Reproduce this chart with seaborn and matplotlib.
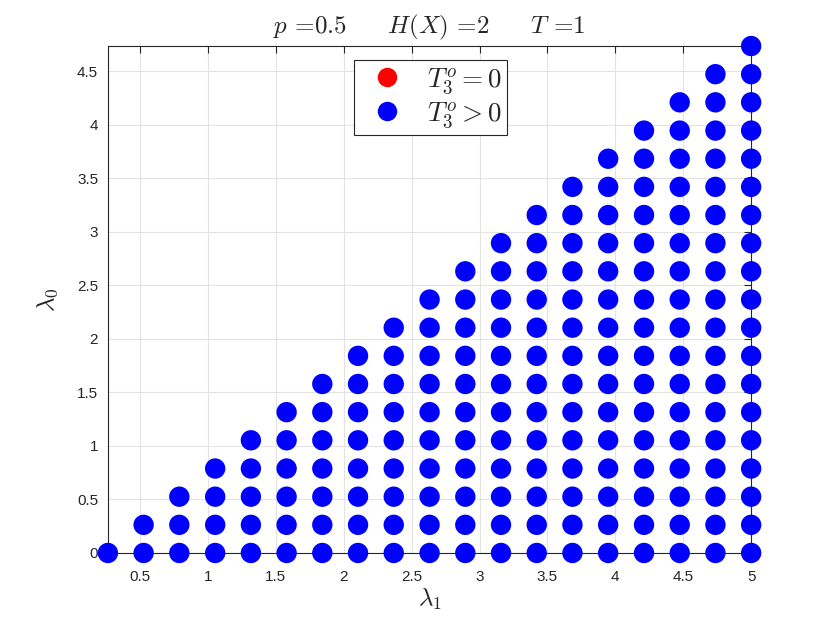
import pandas as pd
import seaborn as sns
import matplotlib
matplotlib.use("Agg")
import matplotlib.pyplot as plt
from matplotlib.lines import Line2D

# grid values used for both lambda axes (step 5/19)
lam_grid = [0.0, 0.263, 0.526, 0.789, 1.053, 1.316, 1.579, 1.842, 2.105, 2.368,
            2.632, 2.895, 3.158, 3.421, 3.684, 3.947, 4.211, 4.474, 4.737, 5.0]
# T3^o status for every computed point: all positive in this run
status_labels = ['$T_3^o = 0$', '$T_3^o > 0$']
status_colors = ['#ff0000', '#0000ff']

rows = []
for l1 in lam_grid[1:]:
    for l0 in lam_grid:
        if l0 < l1:
            rows.append({'lam1': l1, 'lam0': l0, 'status': status_labels[1]})
df = pd.DataFrame(rows)

sns.set_style("white")
plt.rcParams['mathtext.fontset'] = 'cm'
plt.rcParams['axes.unicode_minus'] = False
plt.rcParams['font.family'] = ['Liberation Sans', 'DejaVu Sans']

fig = plt.figure(figsize=(8.3, 6.23), dpi=100)
ax = fig.add_axes([0.13, 0.1124, 0.775, 0.8137])

sns.scatterplot(data=df, x='lam1', y='lam0', hue='status',
                hue_order=status_labels, palette=status_colors,
                s=215, linewidth=0, legend=False, ax=ax,
                clip_on=False, zorder=3)

ax.set_xlim(0.263, 5.0)
ax.set_ylim(0.0, 4.737)
ax.set_xticks([0.5, 1, 1.5, 2, 2.5, 3, 3.5, 4, 4.5, 5])
ax.set_xticklabels(['0.5', '1', '1.5', '2', '2.5', '3', '3.5', '4', '4.5', '5'])
ax.set_yticks([0, 0.5, 1, 1.5, 2, 2.5, 3, 3.5, 4, 4.5])
ax.set_yticklabels(['0', '0.5', '1', '1.5', '2', '2.5', '3', '3.5', '4', '4.5'])
ax.grid(True, color='#e3e3e3', linewidth=0.8)
ax.set_axisbelow(True)
ax.tick_params(direction='in', length=5, width=0.8, colors='#262626',
               labelsize=11, top=True, right=True)
ax.tick_params(axis='x', pad=12)
ax.tick_params(axis='y', pad=7)
for sp in ax.spines.values():
    sp.set_visible(True)
    sp.set_color('#262626')
    sp.set_linewidth(0.8)

ax.set_xlabel(r'$\lambda_1$', fontsize=18, color='#262626', labelpad=2)
ax.set_ylabel(r'$\lambda_0$', fontsize=18, color='#262626', labelpad=12)
ax.set_title(r'$p$ =0.5     $H(X)$ =2     $T$ =1', fontsize=18, pad=9,
             family='cmr10')

# legend: red entry has no points in this run
handles = [Line2D([], [], marker='o', linestyle='none', markersize=14,
                  markerfacecolor=c, markeredgewidth=0) for c in status_colors]
leg = ax.legend(handles, status_labels, loc='upper center',
                bbox_to_anchor=(0.502, 0.972), borderaxespad=0,
                fontsize=19.5, frameon=True, fancybox=False,
                edgecolor='#262626', framealpha=1, handletextpad=0.5,
                handlelength=2.0, borderpad=0.2, labelspacing=0.15)
leg.get_frame().set_linewidth(0.8)
leg.set_zorder(5)

fig.savefig("out.png", dpi=100)
